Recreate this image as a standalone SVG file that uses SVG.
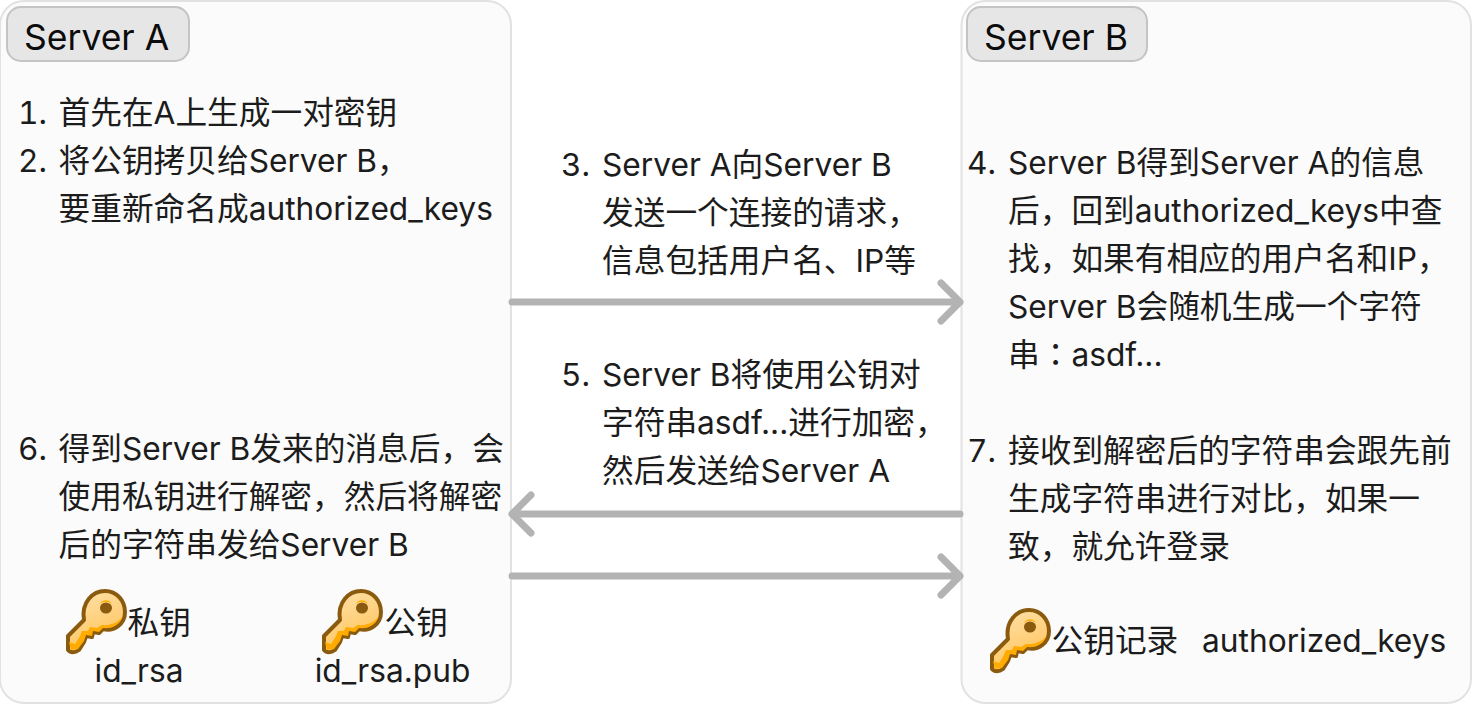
<svg xmlns="http://www.w3.org/2000/svg" width="1472" height="704" viewBox="0 0 1472 704">
<style>
text{font-family:Inter,"Noto Sans CJK SC","Noto Sans",sans-serif;font-size:31.7px;fill:#1c1c1c}
.panel{fill:#fbfbfb;stroke:#e2e2e2;stroke-width:2}
.tag{fill:#e6e6e6;stroke:#c4c4c4;stroke-width:2}
.title{font-size:35.5px;fill:#0c0c0c}
.mid{text-anchor:middle}
.num{text-anchor:end;font-feature-settings:"tnum"}
.tc{font-family:"Noto Sans CJK TC",sans-serif}
.conn{fill:none;stroke:#b3b3b3;stroke-width:7;stroke-linecap:round;stroke-linejoin:round}
</style>
<defs>
<linearGradient id="gold" x1="0" y1="0" x2="0.4" y2="1"><stop offset="0" stop-color="#ffe3ae"/><stop offset="1" stop-color="#ffc45c"/></linearGradient>
<g id="key">
<path d="M3 46 L19 30 C16 12 28 1 40 1 C52 1 60 11 60 22 C60 34 49 42 38 39 L34 43 L28 42 L27 47 L21 46 L19 52 L14 60 C10 63 5 63 3 60 Z" fill="url(#gold)" stroke="#8a5a0e" stroke-width="4" stroke-linejoin="round"/>
<path d="M4 52 L6 60 L13 59 L19 51 L21 45 L27 46 L28 41 L34 42 L38 38 C47 39 55 35 58 26 C55 31 47 36 37 35 L32 38 L25 37 L23 41 L17 41 L14 48 L10 54 Z" fill="#ffab00"/>
<ellipse cx="41" cy="18" rx="6" ry="5.500" fill="#8a5a0e"/>
<path d="M35 14 C37 9 45 9 47 14 C44 11 38 11 35 14 Z" fill="#ffab00"/>
</g>
</defs>
<g id="server-a">
<rect class="panel" x="0" y="1" width="511" height="702" rx="24"/>
<rect class="tag" x="7" y="7" width="182" height="54" rx="14"/>
<text class="title" x="24" y="50">Server A</text>
<text class="num" x="47" y="124">1.</text><text x="58.500" y="124">首先在A上生成一对密钥</text>
<text class="num" x="47" y="172">2.</text><text x="58.500" y="172">将公钥拷贝给Server B，</text>
<text x="58.500" y="220">要重新命名成authorized_keys</text>
<text class="num" x="47" y="460">6.</text><text x="58.500" y="460">得到Server B发来的消息后，会</text>
<text x="58.500" y="508">使用私钥进行解密，然后将解密</text>
<text x="58.500" y="556">后的字符串发给Server B</text>
<use href="#key" x="65" y="590"/>
<text x="127.500" y="634">私钥</text>
<text class="mid" x="139" y="682">id_rsa</text>
<use href="#key" x="321" y="590"/>
<text x="384.500" y="634">公钥</text>
<text class="mid" x="392.500" y="682">id_rsa.pub</text>
</g>
<g id="server-b">
<rect class="panel" x="961.500" y="1" width="509.500" height="702" rx="24"/>
<rect class="tag" x="967" y="7" width="180" height="54" rx="14"/>
<text class="title" x="984" y="50">Server B</text>
<text class="num" x="996" y="174">4.</text><text x="1008" y="174">Server B得到Server A的信息</text>
<text x="1008" y="222">后，回到authorized_keys中查</text>
<text x="1008" y="270">找，如果有相应的用户名和IP，</text>
<text x="1008" y="318">Server B会随机生成一个字符</text>
<text x="1008" y="366">串<tspan class="tc">：</tspan>asdf...</text>
<text class="num" x="996" y="462">7.</text><text x="1008" y="462">接收到解密后的字符串会跟先前</text>
<text x="1008" y="510">生成字符串进行对比，如果一</text>
<text x="1008" y="558">致，就允许登录</text>
<use href="#key" x="989" y="609"/>
<text x="1051.500" y="652">公钥记录</text>
<text x="1202" y="652">authorized_keys</text>
</g>
<g id="step-3">
<text class="num" x="590" y="176">3.</text><text x="602" y="176">Server A向Server B</text>
<text x="602" y="224">发送一个连接的请求，</text>
<text x="602" y="272">信息包括用户名、IP等</text>
</g>
<g id="step-5">
<text class="num" x="590" y="386">5.</text><text x="602" y="386">Server B将使用公钥对</text>
<text x="602" y="434">字符串asdf...进行加密，</text>
<text x="602" y="482">然后发送给Server A</text>
</g>
<g id="connectors">
<path class="conn" d="M512 302H960M941 283L960 302L941 321"/>
<path class="conn" d="M960 514H512M531 495L512 514L531 533"/>
<path class="conn" d="M512 576H960M941 557L960 576L941 595"/>
</g>
</svg>
